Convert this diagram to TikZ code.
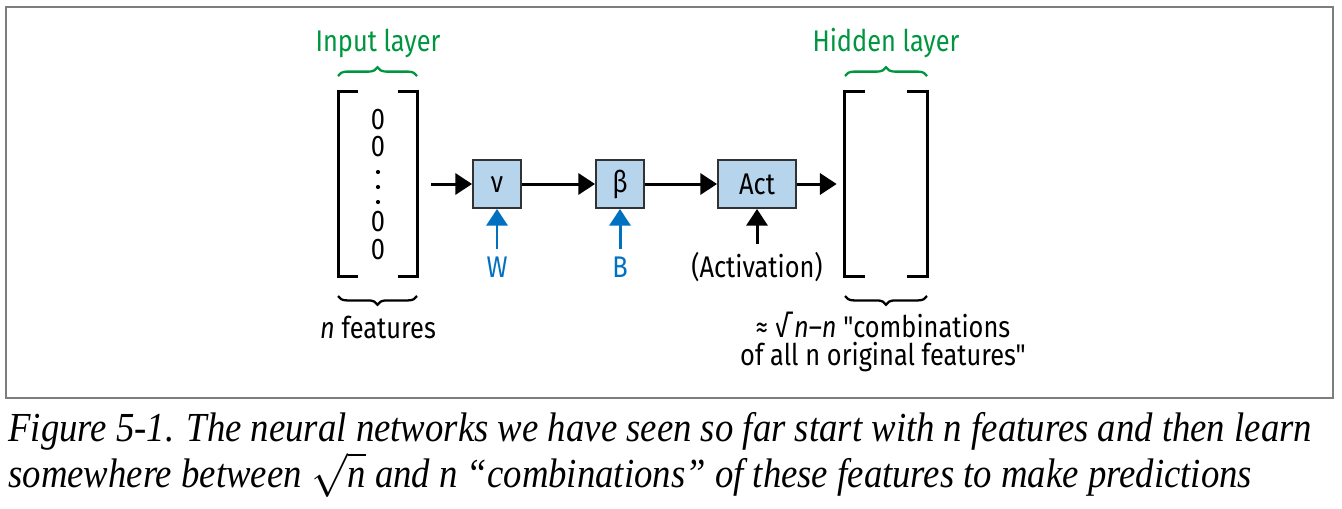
\documentclass[tikz,border=0pt]{standalone}
\usepackage{fontspec}
\setmainfont{Fira Sans}[FakeStretch=0.85, Ligatures=TeXOff]
\newfontfamily\capfont{Liberation Serif}[FakeStretch=0.89]
\usetikzlibrary{arrows.meta,positioning,decorations.pathreplacing}

\definecolor{layergreen}{RGB}{0,150,64}
\definecolor{parblue}{RGB}{0,112,192}
\definecolor{boxblue}{RGB}{182,213,236}
\definecolor{boxedge}{RGB}{50,50,50}
\definecolor{framegray}{RGB}{125,125,125}

% square brackets around a vector node
\def\brackets#1{
   \draw[brak] ([xshift=0.4cm]#1.north west) -- (#1.north west) -- (#1.south west) -- ++(20,0);
   \draw[brak] ([xshift=-0.4cm]#1.north east) -- (#1.north east) -- (#1.south east) -- ++(-20,0);
}

\begin{document}
\begin{tikzpicture}[x=0.02cm, y=-0.02cm,
   every node/.style={font=\fontsize{17}{18}\selectfont, inner sep=0pt},
   vec/.style={minimum height=3.7cm},
   opbox/.style={draw=boxedge, fill=boxblue, line width=1.1pt, minimum height=0.96cm, minimum width=0.96cm},
   flow/.style={line width=1.7pt, -{Triangle[length=9.5pt,width=12pt]}},
   parflow/.style={flow, parblue},
   brak/.style={line width=1.7pt},
   curly/.style={decorate, decoration={brace, amplitude=5pt}, line width=1.3pt}]
   \useasboundingbox (0,0) rectangle (1342,508);
   \draw[framegray, line width=1.2pt] (6,7) rectangle (1333,398);

   % input vector
   \node[vec, minimum width=1.58cm] (invec) at (378,184) {};
   \brackets{invec}
   \foreach \y [count=\i] in {120,147,222,250}
      \node (zero\i) at (378,\y) {0};
   \foreach \y in {172,187,202}
      \fill (378,\y) circle (1.2pt);
   \draw[curly, layergreen] (338,76) -- (417,76);
   \node[layergreen] (inlab) at (378,43) {Input layer};
   \draw[curly] (417,296) -- (338,296);
   \node (nfeat) at (378,327) {\textit{n} features};

   % operations
   \node[opbox] (nu) at (497,184) {ν};
   \node[opbox] (beta) at (620,184) {β};
   \node[opbox, minimum width=1.56cm] (act) at (757,184) {Act};
   \node[parblue] (wlab) at (497,267) {W};
   \node[parblue] (blab) at (620,267) {B};
   \node (actlab) at (757,267) {(Activation)};

   % hidden vector
   \node[vec, minimum width=1.64cm] (hidvec) at (886,184) {};
   \brackets{hidvec}
   \draw[curly, layergreen] (845,76) -- (927,76);
   \node[layergreen] (hidlab) at (886,43) {Hidden layer};
   \draw[curly] (927,296) -- (845,296);
   \node[align=center, font=\fontsize{17}{16}\selectfont] (combo) at (883,342)
      {≈ √\,\textit{n}–\textit{n} "combinations\\of all n original features"};

   \draw[flow, shorten <=0.26cm] (invec) -- (nu);
   \draw[flow] (nu) -- (beta);
   \draw[flow] (beta) -- (act);
   \draw[flow, shorten >=0.16cm] (act) -- (hidvec);
   \draw[parflow, shorten <=0.15cm] (wlab) -- (nu);
   \draw[parflow, shorten <=0.15cm] (blab) -- (beta);
   \draw[flow, shorten <=0.15cm] (actlab) -- (act);

   % caption (base = last line)
   \node[anchor=base west, align=left, font=\capfont\itshape\fontsize{23.5}{22.7}\selectfont] (caption) at (8,487)
      {Figure 5-1. The neural networks we have seen so far start with n features and then learn\\
       somewhere between $\sqrt{\textit{n}}$ and n “combinations” of these features to make predictions};
\end{tikzpicture}
\end{document}
